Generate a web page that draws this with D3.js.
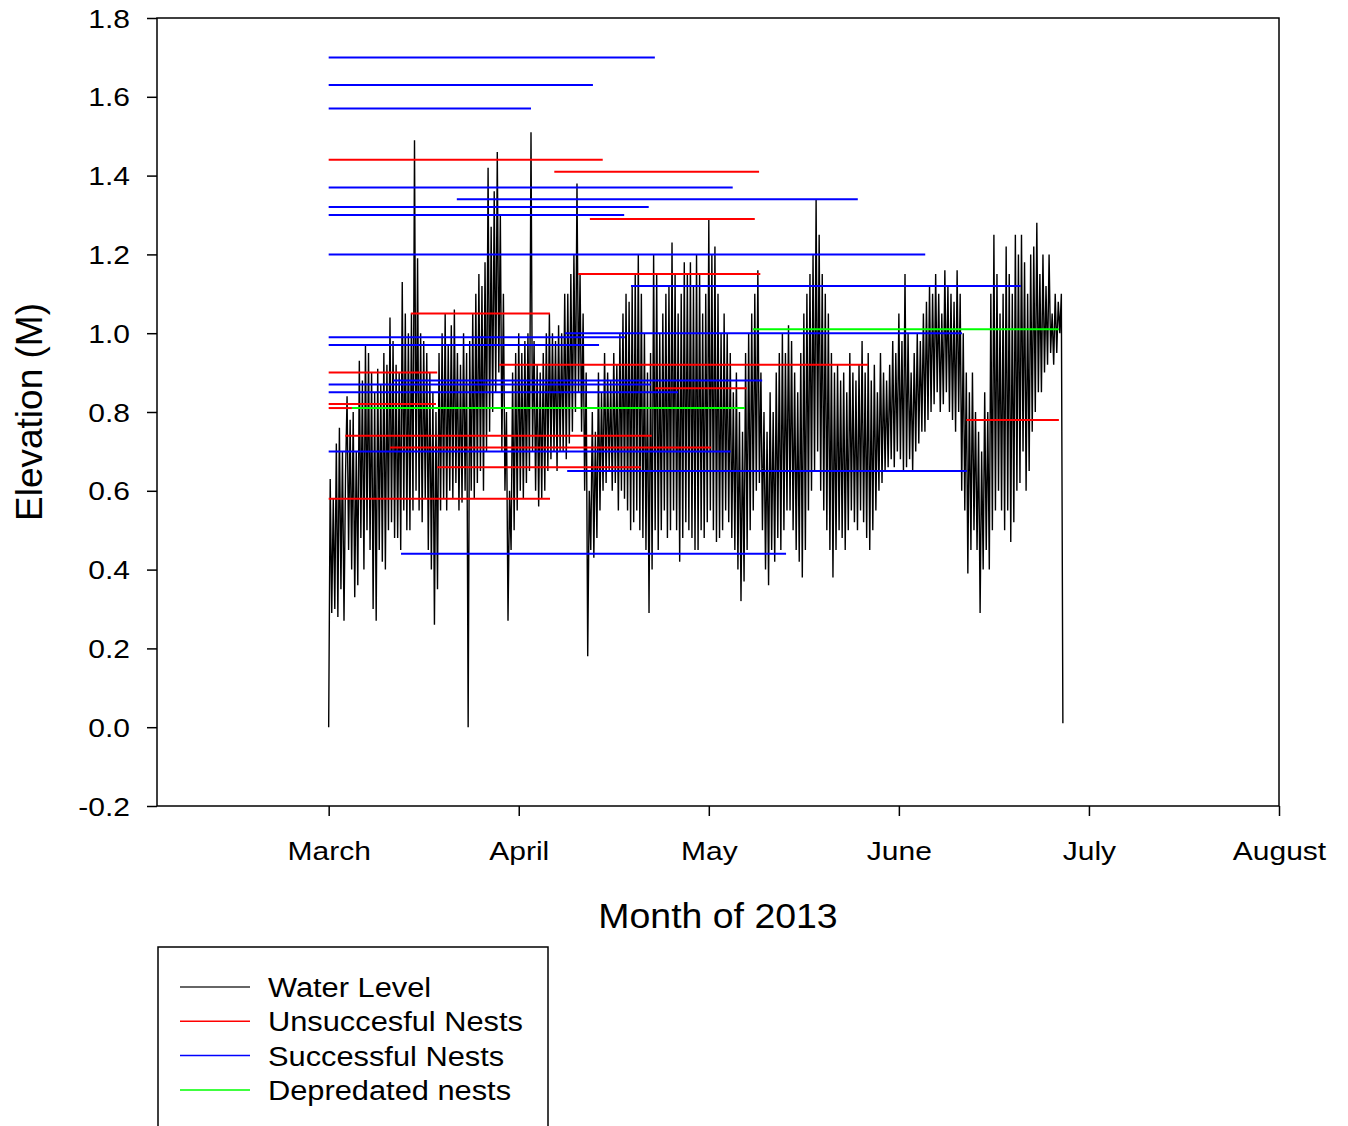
<!DOCTYPE html>
<html>
<head>
<meta charset="utf-8">
<script src="https://cdn.jsdelivr.net/npm/d3@7"></script>
<style>
  body { margin: 0; background: #fff; }
  svg text { font-family: "Liberation Sans", Arial, sans-serif; fill: #000; }
</style>
</head>
<body>
<div id="app"></div>
<script>
const width = 1348
const height = 1126

// x values are day of year 2013, months drawn 31 days apart
const monthTicks = [59, 90, 121, 152, 183, 214]
const monthNames = ['March', 'April', 'May', 'June', 'July', 'August']
const elevationTicks = [-0.2, 0, 0.2, 0.4, 0.6, 0.8, 1.0, 1.2, 1.4, 1.6, 1.8]

// water level (m), a reading every 6 hours from 1 March
const waterStart = 59
const waterStep = 0.25
const waterLevel = [
  0.00, 0.63, 0.29, 0.58,  0.30, 0.72, 0.28, 0.76,  0.35, 0.70, 0.27, 0.64,  0.84, 0.45, 0.78, 0.40,  0.80, 0.33, 0.70, 0.36,
  0.93, 0.48, 0.88, 0.40,  0.97, 0.50, 0.95, 0.45,  0.90, 0.30, 0.85, 0.27,  0.91, 0.45, 0.87, 0.42,  0.95, 0.40, 0.92, 0.50,
  1.04, 0.52, 0.98, 0.48,  0.92, 0.48, 0.90, 0.45,  1.13, 0.55, 1.05, 0.50,  1.00, 0.50, 1.05, 0.55,  1.49, 0.60, 1.19, 0.55,
  1.00, 0.52, 0.98, 0.58,  0.95, 0.45, 0.90, 0.40,  0.85, 0.26, 0.80, 0.35,  0.95, 0.55, 1.00, 0.58,  1.05, 0.55, 0.97, 0.60,
  1.02, 0.58, 1.06, 0.62,  0.95, 0.55, 0.92, 0.57,  1.00, 0.60, 0.95, 0.00,  0.98, 0.60, 1.05, 0.58,  1.10, 0.62, 1.15, 0.65,
  1.12, 0.60, 1.18, 0.70,  1.42, 0.75, 1.27, 0.80,  1.36, 0.85, 1.46, 0.90,  1.30, 0.70, 1.10, 0.60,  0.80, 0.27, 0.60, 0.45,
  0.90, 0.50, 0.95, 0.55,  1.00, 0.60, 0.95, 0.58,  0.98, 0.62, 1.00, 0.65,  1.51, 0.70, 0.98, 0.60,  0.92, 0.56, 0.90, 0.58,
  0.95, 0.60, 1.00, 0.65,  1.05, 0.68, 1.00, 0.70,  0.98, 0.65, 1.02, 0.70,  1.00, 0.70, 1.10, 0.68,  1.10, 0.72, 1.15, 0.75,
  1.20, 0.80, 1.38, 0.85,  1.15, 0.75, 1.05, 0.60,  0.90, 0.18, 0.60, 0.45,  0.80, 0.43, 0.75, 0.48,  0.90, 0.55, 0.85, 0.60,
  0.95, 0.62, 0.90, 0.65,  0.88, 0.60, 0.95, 0.62,  0.92, 0.55, 1.00, 0.60,  1.05, 0.58, 1.10, 0.55,  1.08, 0.50, 1.12, 0.52,
  1.15, 0.55, 1.20, 0.50,  1.10, 0.48, 1.00, 0.45,  0.90, 0.29, 0.95, 0.40,  1.20, 0.50, 1.15, 0.45,  1.00, 0.50, 1.05, 0.55,
  1.10, 0.48, 1.12, 0.50,  1.23, 0.55, 1.15, 0.50,  1.05, 0.42, 1.10, 0.48,  1.18, 0.52, 1.15, 0.50,  1.18, 0.48, 1.12, 0.45,
  1.20, 0.45, 1.15, 0.50,  1.05, 0.48, 1.10, 0.52,  1.29, 0.55, 1.20, 0.50,  1.22, 0.47, 1.10, 0.48,  1.00, 0.50, 1.05, 0.55,
  1.00, 0.52, 0.95, 0.48,  0.85, 0.45, 0.90, 0.40,  0.80, 0.32, 0.75, 0.37,  0.95, 0.45, 1.00, 0.50,  1.05, 0.55, 1.10, 0.60,
  1.16, 0.62, 0.90, 0.50,  0.80, 0.40, 0.75, 0.36,  0.85, 0.45, 0.80, 0.42,  0.90, 0.48, 0.95, 0.45,  1.00, 0.50, 0.95, 0.55,
  1.02, 0.55, 0.98, 0.50,  0.90, 0.45, 0.85, 0.42,  0.95, 0.38, 1.05, 0.45,  1.10, 0.55, 1.15, 0.60,  1.20, 0.65, 1.34, 0.70,
  1.25, 0.60, 1.15, 0.55,  1.10, 0.50, 1.05, 0.45,  0.95, 0.38, 0.90, 0.45,  0.92, 0.50, 0.88, 0.48,  0.90, 0.45, 0.85, 0.50,
  0.95, 0.55, 0.90, 0.52,  0.88, 0.50, 0.92, 0.55,  0.98, 0.52, 0.90, 0.48,  0.95, 0.45, 0.88, 0.50,  0.92, 0.55, 0.85, 0.60,
  0.95, 0.62, 0.90, 0.65,  0.88, 0.66, 0.92, 0.68,  0.98, 0.66, 0.95, 0.70,  1.05, 0.68, 0.98, 0.65,  1.15, 0.66, 1.00, 0.68,
  0.90, 0.65, 0.95, 0.70,  1.00, 0.72, 0.98, 0.75,  1.05, 0.75, 1.08, 0.78,  1.12, 0.80, 1.10, 0.82,  1.15, 0.85, 1.10, 0.80,
  1.05, 0.82, 1.16, 0.85,  1.12, 0.80, 1.10, 0.78,  1.08, 0.75, 1.16, 0.80,  1.10, 0.60, 1.00, 0.55,  0.90, 0.39, 0.85, 0.45,
  0.90, 0.50, 0.80, 0.45,  0.75, 0.29, 0.70, 0.40,  0.85, 0.45, 0.80, 0.40,  1.10, 0.50, 1.25, 0.55,  1.15, 0.60, 1.05, 0.55,
  1.10, 0.50, 1.22, 0.55,  1.15, 0.47, 1.10, 0.52,  1.25, 0.60, 1.20, 0.62,  1.25, 0.70, 1.18, 0.60,  1.10, 0.65, 1.20, 0.75,
  1.22, 0.80, 1.28, 0.85,  1.15, 0.85, 1.20, 0.90,  1.12, 0.92, 1.20, 0.95,  1.05, 0.92, 1.10, 0.95,  1.08, 1.00, 1.10, 0.01
]

// nests: [first day, last day, elevation (m)]
const unsuccessfulNests = [
  [59, 103.7, 1.44], [95.8, 129.2, 1.41], [101.6, 128.5, 1.29], [99.7, 129.4, 1.15],
  [72.4, 95.1, 1.05], [86.8, 147.0, 0.92], [59, 76.7, 0.90], [112.2, 127.2, 0.86],
  [59, 76.5, 0.82], [59, 62.8, 0.81], [61.7, 111.7, 0.74], [69.0, 121.4, 0.71],
  [76.7, 109.9, 0.66], [59, 95.1, 0.58], [163.0, 178.1, 0.78]
]
const successfulNests = [
  [59, 112.2, 1.70], [59, 102.1, 1.63], [59, 92.0, 1.57], [59, 124.9, 1.37],
  [79.9, 145.3, 1.34], [59, 111.2, 1.32], [59, 107.2, 1.30], [59, 156.3, 1.20],
  [108.3, 171.9, 1.12], [97.5, 162.3, 1.00], [59, 107.3, 0.99], [59, 103.1, 0.97],
  [69.5, 129.7, 0.88], [59, 111.6, 0.87], [59, 116.0, 0.85], [59, 124.6, 0.70],
  [97.9, 163.1, 0.65], [70.8, 133.6, 0.44]
]
const depredatedNests = [
  [128.2, 178.1, 1.01], [62.8, 126.9, 0.81]
]

const legendLabels = ['Water Level', 'Unsuccesful Nests', 'Successful Nests', 'Depredated nests']
const legendColors = ['#333333', '#ff0000', '#0000ff', '#00ff00']

const svg = d3.select('#app').append('svg')
    .attr('width', width)
    .attr('height', height)

const x = d3.scaleLinear().domain([31, 214]).range([157, 1279])
const y = d3.scaleLinear().domain([-0.2, 1.8]).range([806, 18])

// water level trace
const line = d3.line()
    .x((d, i) => x(waterStart + i * waterStep))
    .y(d => y(d))

svg.append('path')
    .datum(waterLevel)
    .attr('d', line)
    .attr('fill', 'none')
    .attr('stroke', '#000')
    .attr('stroke-width', 1.4)

// nest periods as horizontal bars
const nestSets = [
  {data: successfulNests, color: '#0000ff'},
  {data: unsuccessfulNests, color: '#ff0000'},
  {data: depredatedNests, color: '#00ff00'}
]
nestSets.forEach(set => {
  svg.append('g').selectAll('line')
      .data(set.data)
      .join('line')
      .attr('x1', d => x(d[0]))
      .attr('x2', d => x(d[1]))
      .attr('y1', d => y(d[2]))
      .attr('y2', d => y(d[2]))
      .attr('stroke', set.color)
      .attr('stroke-width', 2)
})

// axes
const yAxis = svg.append('g')
    .attr('transform', `translate(${x.range()[0]},0)`)
    .call(d3.axisLeft(y).tickValues(elevationTicks).tickFormat(d => d.toFixed(1)).tickSize(10).tickSizeOuter(0))
yAxis.select('.domain').remove()
yAxis.selectAll('line').attr('stroke-width', 1.5)
yAxis.selectAll('text')
    .attr('x', null).attr('dy', null)
    .attr('transform', 'translate(-27,9) scale(1.2,1)')
    .style('font-size', '25px')

const xAxis = svg.append('g')
    .attr('transform', `translate(0,${y.range()[0]})`)
    .call(d3.axisBottom(x).tickValues(monthTicks).tickFormat((d, i) => monthNames[i]).tickSize(10).tickSizeOuter(0))
xAxis.select('.domain').remove()
xAxis.selectAll('line').attr('stroke-width', 1.5)
xAxis.selectAll('text')
    .attr('y', null).attr('dy', null)
    .attr('transform', 'translate(0,54) scale(1.2,1)')
    .style('font-size', '25px')

// plot frame
svg.append('rect')
    .attr('x', 157).attr('y', 18)
    .attr('width', 1279 - 157).attr('height', 806 - 18)
    .attr('fill', 'none')
    .attr('stroke', '#000')
    .attr('stroke-width', 1.5)

svg.append('text')
    .attr('text-anchor', 'middle')
    .attr('transform', 'translate(718,928) scale(1.07,1)')
    .style('font-size', '35px')
    .text('Month of 2013')

svg.append('text')
    .attr('text-anchor', 'middle')
    .attr('transform', 'translate(42,412) rotate(-90)')
    .style('font-size', '37px')
    .text('Elevation (M)')

// legend
const legend = svg.append('g')
legend.append('rect')
    .attr('x', 158).attr('y', 947)
    .attr('width', 390).attr('height', 220)
    .attr('fill', '#fff')
    .attr('stroke', '#000')
    .attr('stroke-width', 1.5)

const rows = legend.selectAll('g.row')
    .data(legendLabels)
    .join('g')
    .attr('class', 'row')
    .attr('transform', (d, i) => `translate(0,${987 + i * 34.3})`)

rows.append('line')
    .attr('x1', 180).attr('x2', 250)
    .attr('stroke', (d, i) => legendColors[i])
    .attr('stroke-width', 1.5)

rows.append('text')
    .attr('transform', 'translate(268,10) scale(1.1,1)')
    .style('font-size', '28px')
    .text(d => d)
</script>
</body>
</html>
